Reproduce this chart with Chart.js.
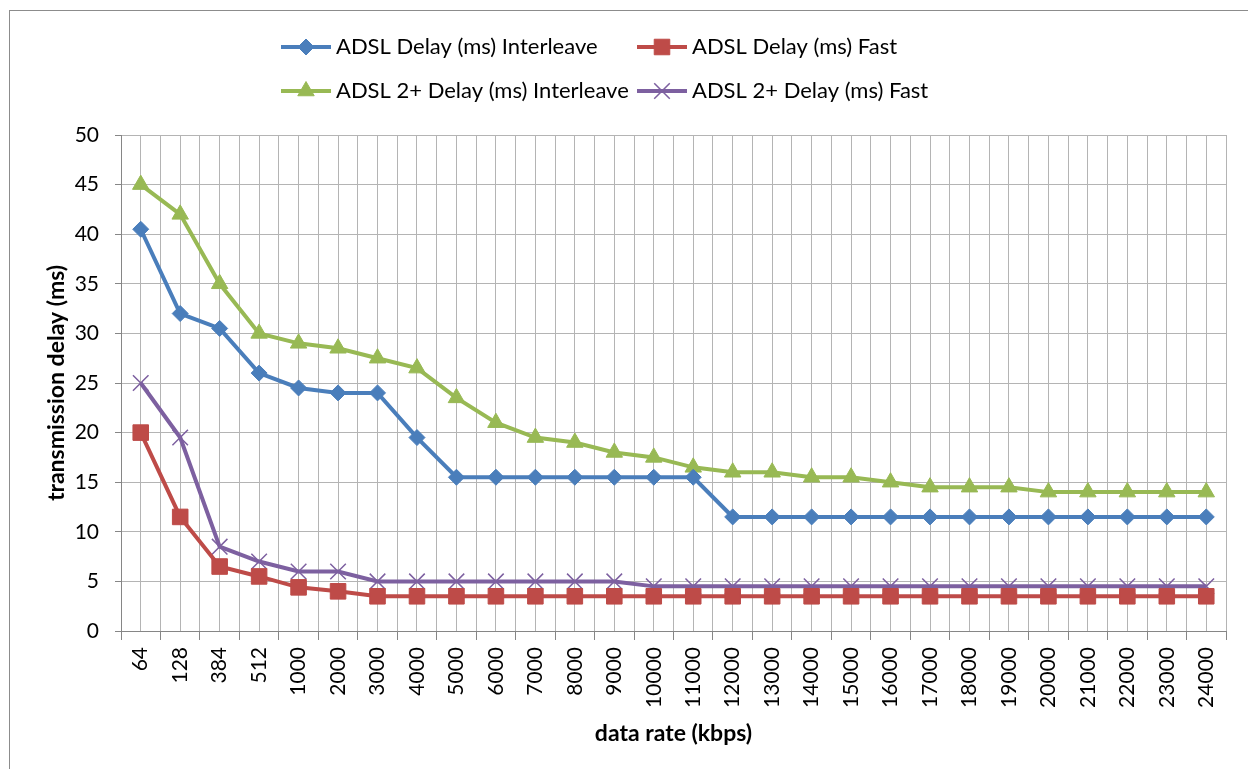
<!DOCTYPE html>
<html>
<head>
<meta charset="utf-8">
<script src="https://cdn.jsdelivr.net/npm/chart.js@4.4.1/dist/chart.umd.min.js"></script>
<style>
  html, body { margin: 0; padding: 0; background: #fff; overflow: hidden; }
  #wrap { position: relative; width: 1248px; height: 769px; }
  #moldura { position: absolute; left: 9px; top: 10px; width: 1300px; height: 800px; border: 1px solid #8c8c8c; }
  #grafico { position: absolute; left: 0; top: 0; }
</style>
</head>
<body>
<div id="wrap">
  <div id="moldura"></div>
  <canvas id="grafico" width="1248" height="769"></canvas>
</div>
<script>
const categorias = ['64', '128', '384', '512', '1000', '2000', '3000', '4000', '5000', '6000',
  '7000', '8000', '9000', '10000', '11000', '12000', '13000', '14000', '15000', '16000',
  '17000', '18000', '19000', '20000', '21000', '22000', '23000', '24000'];

const adslInterleave = [40.5, 32, 30.5, 26, 24.5, 24, 24, 19.5, 15.5, 15.5, 15.5, 15.5, 15.5, 15.5,
  15.5, 11.5, 11.5, 11.5, 11.5, 11.5, 11.5, 11.5, 11.5, 11.5, 11.5, 11.5, 11.5, 11.5];
const adslFast = [20, 11.5, 6.5, 5.5, 4.4, 4, 3.5, 3.5, 3.5, 3.5, 3.5, 3.5, 3.5, 3.5,
  3.5, 3.5, 3.5, 3.5, 3.5, 3.5, 3.5, 3.5, 3.5, 3.5, 3.5, 3.5, 3.5, 3.5];
const adsl2Interleave = [45, 42, 35, 30, 29, 28.5, 27.5, 26.5, 23.5, 21, 19.5, 19, 18, 17.5,
  16.5, 16, 16, 15.5, 15.5, 15, 14.5, 14.5, 14.5, 14, 14, 14, 14, 14];
const adsl2Fast = [25, 19.5, 8.5, 7, 6, 6, 5, 5, 5, 5, 5, 5, 5, 4.5,
  4.5, 4.5, 4.5, 4.5, 4.5, 4.5, 4.5, 4.5, 4.5, 4.5, 4.5, 4.5, 4.5, 4.5];

const rotulosSeries = ['ADSL Delay (ms) Interleave', 'ADSL Delay (ms) Fast',
  'ADSL 2+ Delay (ms) Interleave', 'ADSL 2+ Delay (ms) Fast'];

const corGrade = '#b4b4b4';
const corEixo = '#868686';
const fonte = 'Lato, "Open Sans", sans-serif';

function serie(label, data, cor, estilo, raio, borda) {
  return {
    label, data,
    borderColor: cor,
    backgroundColor: cor,
    borderWidth: 4,
    pointStyle: estilo,
    pointRadius: raio,
    pointBackgroundColor: cor,
    pointBorderColor: cor,
    pointBorderWidth: borda,
    tension: 0
  };
}

// legenda desenhada em duas colunas, como no Excel
const legendaColunas = [281, 637];
const legendaLinhas = [47, 91];
const legendaPlugin = {
  id: 'legenda',
  afterDraw(chart) {
    const ctx = chart.ctx;
    ctx.save();
    chart.data.datasets.forEach((ds, i) => {
      const x = legendaColunas[i % 2];
      const y = legendaLinhas[Math.floor(i / 2)];
      ctx.strokeStyle = ds.borderColor;
      ctx.lineWidth = ds.borderWidth;
      ctx.beginPath();
      ctx.moveTo(x, y);
      ctx.lineTo(x + 50, y);
      ctx.stroke();
      ctx.fillStyle = ds.pointBackgroundColor;
      ctx.strokeStyle = ds.pointBorderColor;
      ctx.lineWidth = ds.pointBorderWidth;
      Chart.helpers.drawPoint(ctx, {
        pointStyle: ds.pointStyle, radius: ds.pointRadius, borderWidth: ds.pointBorderWidth, rotation: 0
      }, x + 25, y);
      ctx.fillStyle = '#000';
      ctx.font = '22px ' + fonte;
      ctx.textBaseline = 'middle';
      ctx.textAlign = 'left';
      ctx.fillText(ds.label, x + 55, y);
    });
    ctx.restore();
  }
};

const graficoCtx = document.getElementById('grafico').getContext('2d');
const grafico = new Chart(graficoCtx, {
  type: 'line',
  data: {
    labels: categorias,
    datasets: [
      serie(rotulosSeries[0], adslInterleave, '#4a7ebb', 'rectRot', 8, 1),
      serie(rotulosSeries[1], adslFast, '#be4b48', 'rect', 11, 1),
      serie(rotulosSeries[2], adsl2Interleave, '#98b954', 'triangle', 9.5, 1),
      serie(rotulosSeries[3], adsl2Fast, '#7d60a0', 'crossRot', 11, 1.5)
    ]
  },
  plugins: [legendaPlugin],
  options: {
    responsive: false,
    animation: false,
    events: [],
    layout: { padding: { left: 0, right: 22, top: 0, bottom: 0 } },
    plugins: {
      legend: { display: false },
      tooltip: { enabled: false }
    },
    scales: {
      x: {
        type: 'category',
        position: 'bottom',
        offset: true,
        grid: { offset: true, color: corGrade, tickColor: corEixo, tickLength: 9 },
        border: { color: corEixo, width: 1 },
        ticks: {
          autoSkip: false, maxRotation: 90, minRotation: 90, padding: 7,
          color: '#000', font: { family: fonte, size: 21 }
        },
        title: {
          display: true, text: 'data rate (kbps)', color: '#000',
          font: { family: fonte, size: 23, weight: 'bold' },
          padding: { top: 0, bottom: 22 }
        },
        afterFit(eixo) { eixo.height = 138; }
      },
      x2: {
        type: 'category',
        position: 'top',
        offset: true,
        grid: { offset: false, color: corGrade, drawTicks: false },
        border: { display: false },
        ticks: { display: false },
        afterFit(eixo) { eixo.height = 135; }
      },
      y: {
        min: 0,
        max: 50,
        ticks: {
          stepSize: 5, padding: 16,
          color: '#000', font: { family: fonte, size: 21 }
        },
        grid: { color: corGrade, tickColor: corEixo, tickLength: 6 },
        border: { color: corEixo, width: 1 },
        title: {
          display: true, text: 'transmission delay (ms)', color: '#000',
          font: { family: fonte, size: 23, weight: 'bold' },
          padding: { top: 43, bottom: 0 }
        },
        afterFit(eixo) { eixo.width = 121; }
      }
    }
  }
});
</script>
</body>
</html>
